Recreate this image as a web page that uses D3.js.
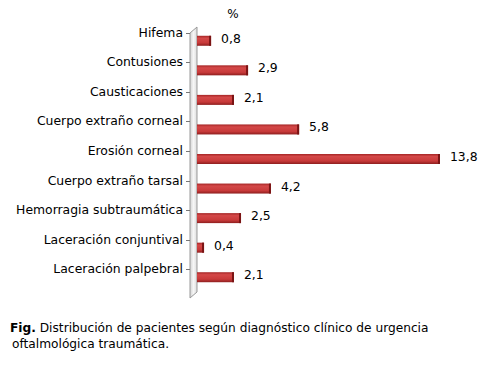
<!DOCTYPE html>
<html>
<head>
<meta charset="utf-8">
<script src="https://cdn.jsdelivr.net/npm/d3@7"></script>
<style>
  body { margin: 0; background: #fff; }
  text { font-family: "DejaVu Sans", Verdana, sans-serif; fill: #000; }
</style>
</head>
<body>
<svg class="container"></svg>
<script>
const categories = [
  "Hifema",
  "Contusiones",
  "Causticaciones",
  "Cuerpo extraño corneal",
  "Erosión corneal",
  "Cuerpo extraño tarsal",
  "Hemorragia subtraumática",
  "Laceración conjuntival",
  "Laceración palpebral"
];
const values = [0.8, 2.9, 2.1, 5.8, 13.8, 4.2, 2.5, 0.4, 2.1];
const valueLabels = ["0,8", "2,9", "2,1", "5,8", "13,8", "4,2", "2,5", "0,4", "2,1"];

const width = 488;
const height = 372;

const svg = d3.select(".container").attr("width", width).attr("height", height);

const defs = svg.append("defs");
const wallGrad = defs.append("linearGradient").attr("id", "wall");
wallGrad.append("stop").attr("offset", "0%").attr("stop-color", "#d4d4d4");
wallGrad.append("stop").attr("offset", "50%").attr("stop-color", "#f6f6f6");
wallGrad.append("stop").attr("offset", "100%").attr("stop-color", "#dcdcdc");

const barGrad = defs.append("linearGradient").attr("id", "bar")
  .attr("x1", 0).attr("x2", 0).attr("y1", 0).attr("y2", 1);
barGrad.append("stop").attr("offset", "0%").attr("stop-color", "#a52626");
barGrad.append("stop").attr("offset", "25%").attr("stop-color", "#d44848");
barGrad.append("stop").attr("offset", "70%").attr("stop-color", "#c83a3a");
barGrad.append("stop").attr("offset", "100%").attr("stop-color", "#8e1e1e");

const xScale = d3.scaleLinear().domain([0, 14]).range([197, 443.5]);
const yScale = d3.scaleBand().domain(categories).range([26, 292]);

// side wall
const wall = svg.append("g");
wall.append("path")
  .attr("d", "M190,33 L197,27 L197,292 L190,298 Z")
  .attr("fill", "url(#wall)")
  .attr("stroke", "#999")
  .attr("stroke-width", 1);

// ticks + category labels
const cats = svg.append("g");
categories.forEach((c) => {
  const y = yScale(c) + yScale.bandwidth() / 2 - 8;
  cats.append("line")
    .attr("x1", 186).attr("x2", 190)
    .attr("y1", Math.round(y) + 0.5).attr("y2", Math.round(y) + 0.5)
    .attr("stroke", "#777");
  cats.append("text")
    .attr("x", 183).attr("y", y + 4)
    .attr("text-anchor", "end")
    .attr("font-size", 12.4)
    .text(c);
});

// bars
const bh = 10;
const bars = svg.append("g");
bars.selectAll("rect.bar")
  .data(values)
  .enter()
  .append("rect")
  .attr("class", "bar")
  .attr("x", xScale(0))
  .attr("y", (d, i) => yScale(categories[i]) + yScale.bandwidth() / 2 - bh / 2)
  .attr("width", (d) => xScale(d) - xScale(0))
  .attr("height", bh)
  .attr("fill", "url(#bar)");

// dark end cap
bars.selectAll("rect.cap")
  .data(values)
  .enter()
  .append("rect")
  .attr("class", "cap")
  .attr("x", (d) => xScale(d) - 2)
  .attr("y", (d, i) => yScale(categories[i]) + yScale.bandwidth() / 2 - bh / 2)
  .attr("width", 2)
  .attr("height", bh)
  .attr("fill", "#7a1414");

// value labels
svg.append("g").selectAll("text")
  .data(values)
  .enter()
  .append("text")
  .attr("x", (d) => xScale(d) + 10)
  .attr("y", (d, i) => yScale(categories[i]) + yScale.bandwidth() / 2 + 2)
  .attr("font-size", 12.4)
  .text((d, i) => valueLabels[i]);

// unit
svg.append("text")
  .attr("x", 233).attr("y", 18)
  .attr("text-anchor", "middle")
  .attr("font-size", 12)
  .text("%");

// caption
const cap = svg.append("text").attr("font-size", 12.2);
cap.append("tspan").attr("x", 10).attr("y", 332).attr("font-weight", "bold").text("Fig.");
cap.append("tspan").text(" Distribución de pacientes según diagnóstico clínico de urgencia");
svg.append("text")
  .attr("x", 12).attr("y", 348)
  .attr("font-size", 12.2)
  .text("oftalmológica traumática.");
</script>
</body>
</html>
